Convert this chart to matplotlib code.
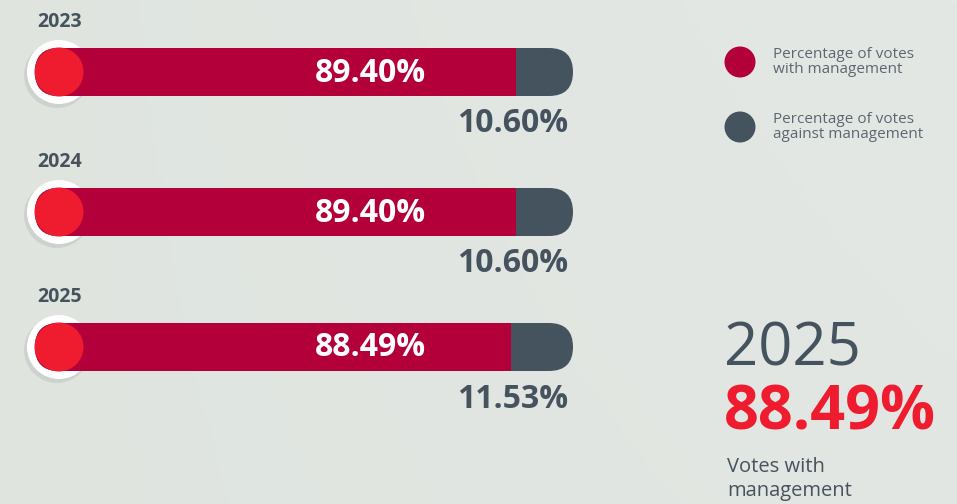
import numpy as np
import matplotlib
matplotlib.use("Agg")
import matplotlib.pyplot as plt
from matplotlib.patches import FancyBboxPatch, Rectangle, Circle

# data
years = ["2023", "2024", "2025"]
votes_with = [89.40, 89.40, 88.49]
votes_against = [10.60, 10.60, 11.53]
legend_labels = ["Percentage of votes\nwith management", "Percentage of votes\nagainst management"]
highlight_year = "2025"
highlight_value = 88.49
highlight_caption = "Votes with\nmanagement"

RED = "#B3003A"
BRIGHT_RED = "#EE1C2E"
DARK = "#45535E"
FONT = "Open Sans"

plt.rcParams["font.family"] = [FONT, "DejaVu Sans"]

W, H = 957, 504
fig = plt.figure(figsize=(W / 100, H / 100), dpi=100)
ax = fig.add_axes([0, 0, 1, 1])
ax.set_xlim(0, W)
ax.set_ylim(H, 0)
ax.axis("off")

# soft background
gx = np.linspace(0, 1, 200)
gy = np.linspace(0, 1, 100)
GX, GY = np.meshgrid(gx, gy)
shade = 0.5 + 0.5 * GX * (1 - 0.4 * GY)
base = np.array(matplotlib.colors.to_rgb("#DAE1DA"))
top = np.array(matplotlib.colors.to_rgb("#E4E8E5"))
img = base[None, None, :] * (1 - shade[..., None]) + top[None, None, :] * shade[..., None]
ax.imshow(img, extent=(0, W, H, 0), aspect="auto", zorder=0)

# bar geometry (pixels)
x_left = 35
x_right = 573
bar_h = 48
r = bar_h / 2
row_y = [72, 212, 347]

for i, yr in enumerate(years):
    yc = row_y[i]
    total = votes_with[i] + votes_against[i]
    split = x_left + (x_right - x_left) * votes_with[i] / total

    # full bar (against part shows on right)
    ax.add_patch(FancyBboxPatch((x_left, yc - r), x_right - x_left, bar_h,
                                boxstyle=f"round,pad=0,rounding_size={r}",
                                fc=DARK, ec="none", zorder=2))
    # with-management part
    ax.add_patch(FancyBboxPatch((x_left, yc - r), split - x_left, bar_h,
                                boxstyle=f"round,pad=0,rounding_size={r}",
                                fc=RED, ec="none", zorder=3))
    ax.add_patch(Rectangle((split - r, yc - r), r, bar_h, fc=RED, ec="none", zorder=3))

    # white knob with shadow and red dot
    cx = x_left + r
    ax.add_patch(Circle((cx - 2, yc + 3), 33, fc="#9aa09c", ec="none", alpha=0.25, zorder=1))
    ax.add_patch(Circle((cx, yc), 32, fc="white", ec="none", zorder=1.5))
    ax.add_patch(Circle((cx, yc), r + 0.5, fc=BRIGHT_RED, ec="none", zorder=4))

    ax.text(37, yc - 50, yr, fontsize=14, fontweight="bold", color=DARK,
            ha="left", va="center", zorder=5)
    ax.text(370, yc + 1, f"{votes_with[i]:.2f}%", fontsize=23, fontweight="bold",
            color="white", ha="center", va="center", zorder=5)
    ax.text(568, yc + 52, f"{votes_against[i]:.2f}%", fontsize=23, fontweight="bold",
            color=DARK, ha="right", va="center", zorder=5)

# legend
for j, (lab, col) in enumerate(zip(legend_labels, [RED, DARK])):
    ly = 62 + j * 65
    ax.add_patch(Circle((740, ly), 15.5, fc=col, ec="none", zorder=4))
    ax.text(773, ly, lab, fontsize=11, color="#5b6770", ha="left", va="center",
            linespacing=0.92, zorder=5)

# highlight block
ax.text(724, 350, highlight_year, fontsize=43, fontweight="normal", color=DARK,
        ha="left", va="center", zorder=5)
ax.text(724, 414, f"{highlight_value:.2f}%", fontsize=44, fontweight="bold",
        color=BRIGHT_RED, ha="left", va="center", zorder=5)
ax.text(727, 479, highlight_caption, fontsize=14.5, color=DARK, ha="left",
        va="center", linespacing=1.3, zorder=5)

fig.savefig("out.png", dpi=100)
